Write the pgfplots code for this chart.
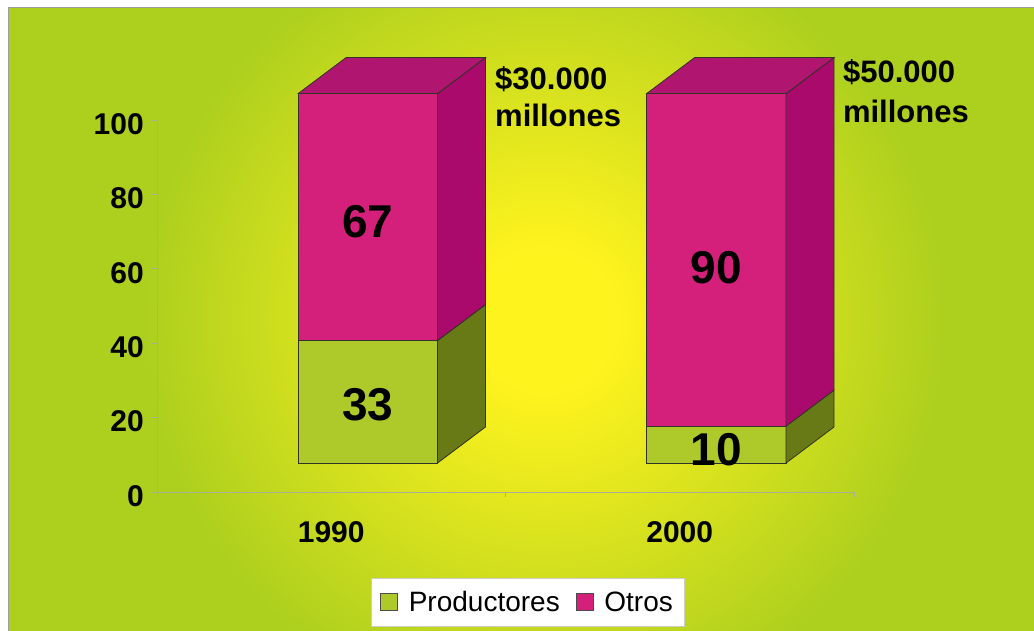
\documentclass[border=0pt]{standalone}
\usepackage{fontspec}
\setmainfont{Liberation Sans}
\usepackage{pgfplots}
\pgfplotsset{compat=1.18}
\definecolor{yel}{RGB}{255,243,30}
\definecolor{grn}{RGB}{173,207,30}
\definecolor{magF}{RGB}{212,32,122}
\definecolor{magS}{RGB}{170,10,108}
\definecolor{magT}{RGB}{176,22,112}
\definecolor{grnF}{RGB}{173,201,42}
\definecolor{grnS}{RGB}{103,122,22}
\definecolor{axgray}{RGB}{170,176,150}
\definecolor{edge}{RGB}{50,50,40}
\pgfdeclareradialshading{bgshade}{\pgfpoint{0bp}{0bp}}{color(0bp)=(yel); color(70bp)=(yel); color(400bp)=(grn); color(800bp)=(grn)}
\begin{document}
\begin{tikzpicture}[x=1pt,y=1pt]
\useasboundingbox (0,0) rectangle (1034,631);
\fill[white] (0,0) rectangle (1034,631);
\begin{scope}
\clip (8,0) rectangle (1034,623);
\node[inner sep=0pt] at (545,311) {\pgfuseshading{bgshade}};
\end{scope}
\draw[gray!75, line width=1pt] (8,-2) -- (8,623) -- (1040,623);
\begin{axis}[
  at={(157pt,139pt)}, anchor=south west,
  scale only axis, width=697pt, height=372pt,
  xmin=0, xmax=2, ymin=0, ymax=100,
  clip=false,
  axis lines*=left,
  axis line style={axgray, line width=0.8pt},
  ytick={0,20,...,100},
  xtick={0,1,2}, xticklabels={,,},
  extra x ticks={0.5,1.5}, extra x tick labels={1990,2000},
  extra x tick style={major tick length=0pt},
  tick align=outside, major tick length=5pt,
  tick style={axgray, line width=0.8pt},
  /pgf/number format/assume math mode=true,
  ticklabel style={font=\fontsize{30}{36}\selectfont\bfseries, inner sep=0pt},
  yticklabel style={xshift=-8pt, yshift=-4pt},
  xticklabel style={yshift=-29pt},
  legend image code/.code={\draw[#1, draw=gray!60!black, line width=0.6pt] (0pt,-8.5pt) rectangle (17pt,8.5pt);},
  legend style={at={(0.5316,-0.2957)}, anchor=center, draw=gray!40, fill=white,
    font=\fontsize{28}{32}\selectfont, legend columns=2,
    inner xsep=9pt, inner ysep=11pt,
    /tikz/every odd column/.append style={column sep=9pt},
    /tikz/every even column/.append style={column sep=14pt}},
]
% 1990 front faces (33 + 67, base at 7.8 in the 3D projection)
\addplot[fill=grnF, draw=edge, line width=0.8pt] coordinates {(0.405,7.8) (0.805,7.8) (0.805,40.7) (0.405,40.7)} -- cycle;
\addlegendentry{Productores}
\addplot[fill=magF, draw=edge, line width=0.8pt] coordinates {(0.405,40.7) (0.805,40.7) (0.805,107.1) (0.405,107.1)} -- cycle;
\addlegendentry{Otros}
% 1990 sides and top
\addplot[forget plot, fill=grnS, draw=edge, line width=0.8pt] coordinates {(0.805,7.8) (0.805,40.7) (0.9427,50.38) (0.9427,17.48)} -- cycle;
\addplot[forget plot, fill=magS, draw=edge, line width=0.8pt] coordinates {(0.805,40.7) (0.805,107.1) (0.9427,116.78) (0.9427,50.38)} -- cycle;
\addplot[forget plot, fill=magT, draw=edge, line width=0.8pt] coordinates {(0.405,107.1) (0.805,107.1) (0.9427,116.78) (0.5427,116.78)} -- cycle;
% 2000 (10 + 90)
\addplot[forget plot, fill=grnF, draw=edge, line width=0.8pt] coordinates {(1.405,7.8) (1.805,7.8) (1.805,17.7) (1.405,17.7)} -- cycle;
\addplot[forget plot, fill=magF, draw=edge, line width=0.8pt] coordinates {(1.405,17.7) (1.805,17.7) (1.805,107.1) (1.405,107.1)} -- cycle;
\addplot[forget plot, fill=grnS, draw=edge, line width=0.8pt] coordinates {(1.805,7.8) (1.805,17.7) (1.9427,27.38) (1.9427,17.48)} -- cycle;
\addplot[forget plot, fill=magS, draw=edge, line width=0.8pt] coordinates {(1.805,17.7) (1.805,107.1) (1.9427,116.78) (1.9427,27.38)} -- cycle;
\addplot[forget plot, fill=magT, draw=edge, line width=0.8pt] coordinates {(1.405,107.1) (1.805,107.1) (1.9427,116.78) (1.5427,116.78)} -- cycle;
% labels
\node[font=\fontsize{46}{52}\selectfont\bfseries] at (axis cs:0.605,72.6) {67};
\node[font=\fontsize{46}{52}\selectfont\bfseries] at (axis cs:0.605,23.4) {33};
\node[font=\fontsize{46}{52}\selectfont\bfseries] at (axis cs:1.605,60.2) {90};
\node[font=\fontsize{46}{52}\selectfont\bfseries] at (axis cs:1.605,11.3) {10};
\node[font=\fontsize{31}{36}\selectfont\bfseries, inner sep=0pt, anchor=base west] at (axis cs:0.970,108.33) {\$30.000};
\node[font=\fontsize{31}{36}\selectfont\bfseries, inner sep=0pt, anchor=base west] at (axis cs:0.970,98.12) {millones};
\node[font=\fontsize{31}{36}\selectfont\bfseries, inner sep=0pt, anchor=base west] at (axis cs:1.968,109.95) {\$50.000};
\node[font=\fontsize{31}{36}\selectfont\bfseries, inner sep=0pt, anchor=base west] at (axis cs:1.968,99.46) {millones};
\end{axis}
\end{tikzpicture}
\end{document}
